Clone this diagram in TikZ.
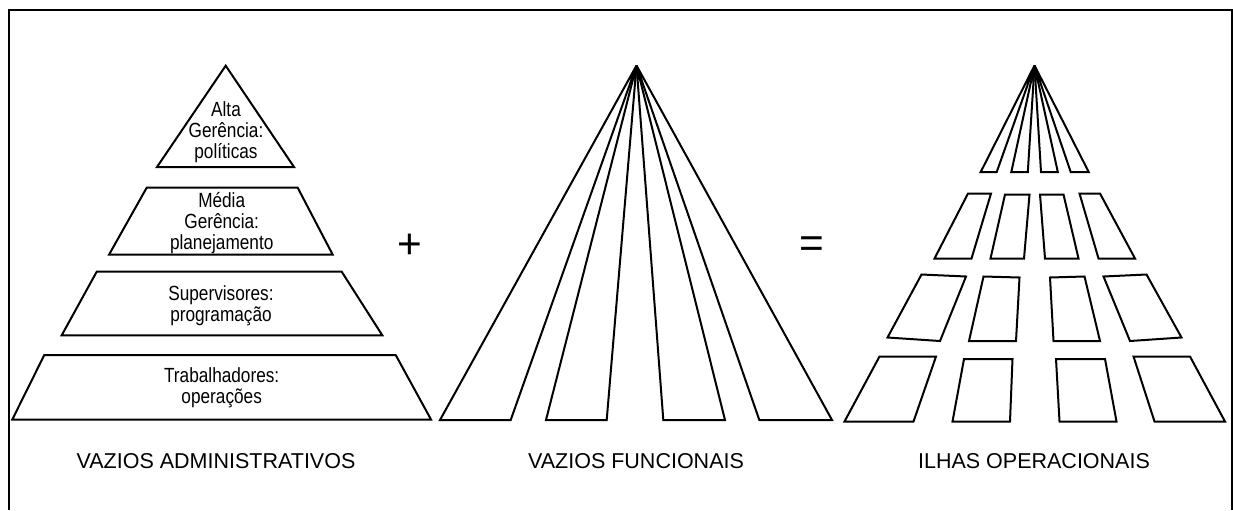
\documentclass[tikz,border=0pt]{standalone}
\usepackage{fontspec}
\setmainfont{Liberation Sans}
\newfontfamily\narrowsans{Liberation Sans}[FakeStretch=0.84]

\begin{document}
\begin{tikzpicture}[
  x=0.6pt, y=-0.6pt,
  block/.style={draw, line width=1.2pt, line join=miter},
  level/.style={font=\narrowsans\fontsize{12.3}{12.6}\selectfont, align=center, inner sep=0pt},
  caption/.style={font=\fontsize{12.9}{15}\selectfont, inner sep=0pt},
  sign/.style={font=\fontsize{25.4}{30}\selectfont, inner sep=0pt}
]
\useasboundingbox (0,0) rectangle (1233,510);

% frame, open at the bottom
\draw[block] (9,510) -- (9,10) -- (1231.5,10) -- (1231.5,510);

% administrative pyramid
\draw[block] (225.7,65.7) -- (294,167) -- (157,167) -- cycle;
\draw[block] (146.7,187.7) -- (297.7,187.7) -- (332.7,254.7) -- (109,254.7) -- cycle;
\draw[block] (96.7,271.7) -- (341.7,271.7) -- (382.3,335.3) -- (61.7,335.3) -- cycle;
\draw[block] (44.3,355) -- (395.7,355) -- (431,419.5) -- (12.3,419.5) -- cycle;

\node[level] (alta) at (226,132) {Alta\\Gerência:\\políticas};
\node[level] (media) at (221.7,223.5) {Média\\Gerência:\\planejamento};
\node[level] (sup) at (221,305.3) {Supervisores:\\programação};
\node[level] (trab) at (221.7,388) {Trabalhadores:\\operações};

\node[sign] (plus) at (410,246.7) {+};

% functional fan
\coordinate (apexF) at (636.5,65.5);
\foreach \a/\b in {440/510.7, 546/606.7, 663.3/725, 759.3/832}
  \draw[block] (apexF) -- (\a,420) -- (\b,420) -- cycle;

\node[sign] (equals) at (812,247) {=};

% operational islands
\coordinate (apexI) at (1034.5,65.5);
\foreach \a/\b in {980.7/996.7, 1011.3/1027.8, 1041/1057.8, 1070.7/1088.7}
  \draw[block] (apexI) -- (\a,172) -- (\b,172) -- cycle;

\draw[block] (968,193.5) -- (991,193.5) -- (971.5,258.5) -- (934.5,258.5) -- cycle;
\draw[block] (1005,194.5) -- (1029.5,194.5) -- (1024,258.5) -- (990.5,258.5) -- cycle;
\draw[block] (1040,194.5) -- (1063.5,194.5) -- (1078.5,258.5) -- (1045,258.5) -- cycle;
\draw[block] (1079.5,193.5) -- (1100,193.5) -- (1135,258.5) -- (1098.5,258.5) -- cycle;

\draw[block] (921.5,274.5) -- (966,276.5) -- (940,341) -- (887.5,337.5) -- cycle;
\draw[block] (983.5,276.5) -- (1019.5,277.5) -- (1016,341) -- (969,341) -- cycle;
\draw[block] (1050,277.5) -- (1084.5,276.5) -- (1100,341) -- (1053.5,341) -- cycle;
\draw[block] (1103.5,276.5) -- (1146.5,274.5) -- (1181.5,337.5) -- (1130,341) -- cycle;

\draw[block] (879.5,356.5) -- (936,356.5) -- (913.5,421.5) -- (844.5,421.5) -- cycle;
\draw[block] (964,359) -- (1012.5,359) -- (1010,421.5) -- (952.5,421.5) -- cycle;
\draw[block] (1056,359) -- (1105,359) -- (1116.5,421.5) -- (1059.5,421.5) -- cycle;
\draw[block] (1133.5,356.5) -- (1190,356.5) -- (1225,421.5) -- (1154.5,421.5) -- cycle;

% captions
\node[caption] (capA) at (216,460.6) {VAZIOS ADMINISTRATIVOS};
\node[caption] (capF) at (636,460.6) {VAZIOS FUNCIONAIS};
\node[caption] (capI) at (1034,460.6) {ILHAS OPERACIONAIS};
\end{tikzpicture}
\end{document}
